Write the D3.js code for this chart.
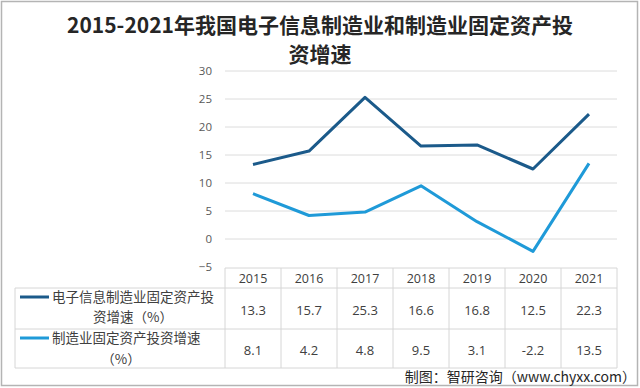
<!DOCTYPE html>
<html><head><meta charset="utf-8">
<script src="https://cdn.jsdelivr.net/npm/d3@7"></script>
<style>body{margin:0;background:#fff}svg{display:block}</style>
</head><body><svg id="c" width="640" height="388"></svg>
<script>
const years = ["2015","2016","2017","2018","2019","2020","2021"];
const seriesNames = [["电子信息制造业固定资产投","资增速（%）"],["制造业固定资产投资增速","（%）"]];
const electronics = [13.3,15.7,25.3,16.6,16.8,12.5,22.3];
const manufacturing = [8.1,4.2,4.8,9.5,3.1,-2.2,13.5];
const yTicks = [-5,0,5,10,15,20,25,30];
const titleLines = ["2015-2021年我国电子信息制造业和制造业固定资产投","资增速"];
const sourceText = "制图：智研咨询（www.chyxx.com）";
const colors = ["#1b5a8a","#1f9ad8"];

const svg = d3.select("#c");
const font = "'Open Sans','Noto Sans CJK SC',sans-serif";
svg.append("rect").attr("x",1.5).attr("y",1.5).attr("width",636).attr("height",384)
  .attr("fill","#fff").attr("stroke","#b4b4b4").attr("stroke-width",1.5);

// title
svg.append("g").selectAll("text").data(titleLines).join("text")
  .attr("x",320).attr("y",(d,i)=>33+i*29).attr("text-anchor","middle")
  .attr("font-family","'Noto Sans CJK SC',sans-serif").attr("font-weight","bold")
  .attr("font-size",21).attr("fill","#262626").text(d=>d);

const x = d3.scaleBand().domain(years).range([225,617]);
const y = d3.scaleLinear().domain([-5,30]).range([267,71]);

// gridlines
svg.append("g").selectAll("line").data(yTicks.filter(t=>t!==-5)).join("line")
  .attr("x1",225).attr("x2",617).attr("y1",d=>y(d)).attr("y2",d=>y(d))
  .attr("stroke","#dcdcdc").attr("stroke-width",1);

// y axis
const ya = svg.append("g").attr("transform","translate(225,0)")
  .call(d3.axisLeft(y).tickValues(yTicks).tickSize(0).tickPadding(13));
ya.select(".domain").remove();
ya.selectAll("text").attr("font-family",font).attr("font-size",11.5).attr("fill","#595959");

// lines
const line = d3.line().x((d,i)=>x(years[i])+x.bandwidth()/2).y(d=>y(d));
[electronics,manufacturing].forEach((s,k)=>{
  svg.append("path").datum(s).attr("d",line).attr("fill","none")
    .attr("stroke",colors[k]).attr("stroke-width",3).attr("stroke-linejoin","round");
});

// table
const tg = svg.append("g").attr("stroke","#d6d6d6").attr("stroke-width",1);
const rowY = [268,288,329,368];
tg.append("line").attr("x1",225).attr("x2",617).attr("y1",rowY[0]).attr("y2",rowY[0]);
rowY.slice(1).forEach(v=>tg.append("line").attr("x1",15).attr("x2",617).attr("y1",v).attr("y2",v));
tg.append("line").attr("x1",15).attr("x2",15).attr("y1",288).attr("y2",368);
years.concat(["end"]).forEach((yr,i)=>{
  const xv = 225 + i*x.bandwidth();
  tg.append("line").attr("x1",xv).attr("x2",xv).attr("y1",268).attr("y2",368);
});

svg.append("g").selectAll("text").data(years).join("text")
  .attr("x",d=>x(d)+x.bandwidth()/2).attr("y",283).attr("text-anchor","middle")
  .attr("font-family",font).attr("font-size",12.5).attr("fill","#404040").text(d=>d);

[electronics,manufacturing].forEach((s,k)=>{
  svg.append("g").selectAll("text").data(s).join("text")
    .attr("x",(d,i)=>x(years[i])+x.bandwidth()/2).attr("y",[315,355][k])
    .attr("text-anchor","middle").attr("font-family",font).attr("font-size",13)
    .attr("fill","#404040").text(d=>d);
});

// legend cells
const legY = [[297,317],[338,359]];
seriesNames.forEach((nm,k)=>{
  svg.append("line").attr("x1",20).attr("x2",49).attr("y1",legY[k][0]).attr("y2",legY[k][0])
    .attr("stroke",colors[k]).attr("stroke-width",3);
  svg.append("text").attr("x",52).attr("y",legY[k][0]+5)
    .attr("font-family","'Noto Sans CJK SC',sans-serif").attr("font-size",13.5).attr("fill","#404040").text(nm[0]);
  svg.append("text").attr("x",[133,121][k]).attr("y",legY[k][1]+5).attr("text-anchor","middle")
    .attr("font-family","'Noto Sans CJK SC',sans-serif").attr("font-size",13.5).attr("fill","#404040").text(nm[1]);
});

svg.append("text").attr("x",636).attr("y",382).attr("text-anchor","end")
  .attr("font-family","'Noto Sans CJK SC',sans-serif").attr("font-size",14).attr("fill","#262626").text(sourceText);
</script></body></html>
